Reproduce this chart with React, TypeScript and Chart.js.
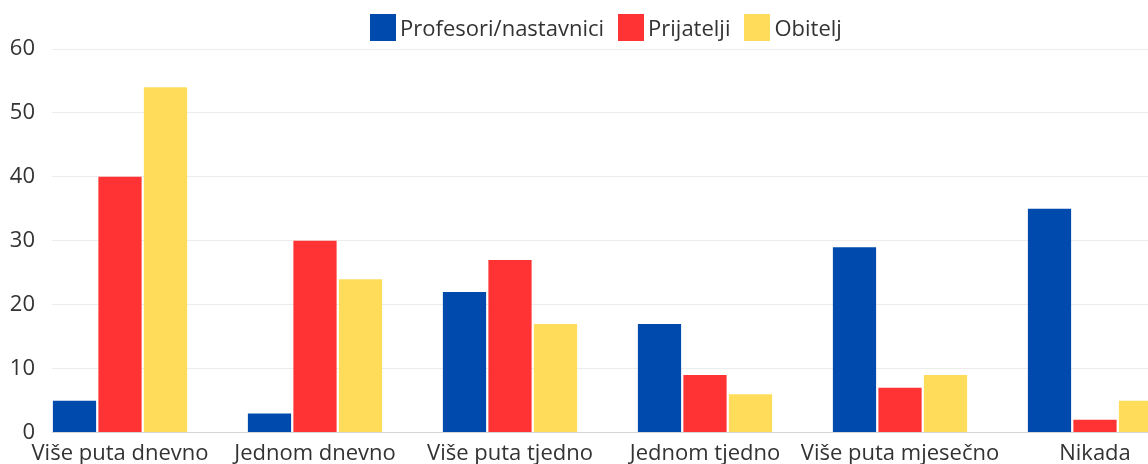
import React, { useEffect, useRef } from "react";
import { Chart, registerables } from "chart.js";

Chart.register(...registerables);

const categories = [
  "Više puta dnevno",
  "Jednom dnevno",
  "Više puta tjedno",
  "Jednom tjedno",
  "Više puta mjesečno",
  "Nikada",
];
const seriesNames = ["Profesori/nastavnici", "Prijatelji", "Obitelj"];
const profesori = [5, 3, 22, 17, 29, 35];
const prijatelji = [40, 30, 27, 9, 7, 2];
const obitelj = [54, 24, 17, 6, 9, 5];
const yTicks = [0, 10, 20, 30, 40, 50, 60];

const colors = ["#004AAD", "#FF3333", "#FFDC5A"];
const FONT = "'Open Sans', sans-serif";

export default function App() {
  const canvasRef = useRef<HTMLCanvasElement | null>(null);

  useEffect(() => {
    if (!canvasRef.current) return;
    const series = [profesori, prijatelji, obitelj];
    const chart = new Chart(canvasRef.current, {
      type: "bar",
      data: {
        datasets: series.map((vals, si) => ({
          label: seriesNames[si],
          data: vals.map((v, i) => ({ x: i, y: v })),
          backgroundColor: colors[si],
          categoryPercentage: 0.7,
          barPercentage: 0.95,
        })),
      },
      options: {
        animation: false,
        responsive: true,
        maintainAspectRatio: false,
        layout: { padding: { top: 41, left: 0, right: 0, bottom: 0 } },
        plugins: {
          legend: { display: false },
          tooltip: { enabled: false },
        },
        scales: {
          x: {
            type: "linear",
            offset: false,
            min: -0.3487,
            max: 5.559,
            grid: { display: false, drawTicks: false, offset: false },
            border: { display: true, color: "#d4d4d4", width: 1 },
            ticks: {
              stepSize: 1,
              includeBounds: false,
              autoSkip: false,
              maxRotation: 0,
              padding: 8,
              color: "#333",
              font: { family: FONT, size: 22 },
              callback: (v: any) =>
                Number.isInteger(v) && categories[v] !== undefined ? categories[v] : "",
            },
          },
          y: {
            min: yTicks[0],
            max: yTicks[yTicks.length - 1],
            grid: { color: "#ececec", drawTicks: false },
            border: { display: false },
            ticks: {
              stepSize: 10,
              padding: 17,
              color: "#333",
              font: { family: FONT, size: 22 },
            },
            afterFit: (scale: any) => {
              scale.width = 44;
            },
          },
        },
      },
    });
    return () => chart.destroy();
  }, []);

  return (
    <div
      style={{
        position: "fixed",
        left: 0,
        top: 0,
        width: 1148,
        height: 464,
        overflow: "hidden",
        background: "#fff",
      }}
    >
      <div
        style={{
          position: "absolute",
          left: 8,
          top: 8,
          width: 1196,
          height: 467,
        }}
      >
        <canvas ref={canvasRef} />
        <div
          style={{
            position: "absolute",
            top: 0,
            left: 0,
            width: 1196,
            height: 38,
            display: "flex",
            justifyContent: "center",
            alignItems: "center",
            fontFamily: FONT,
            fontSize: 22,
            color: "#333",
          }}
        >
          {seriesNames.map((name, i) => (
            <div
              key={name}
              style={{
                display: "flex",
                alignItems: "center",
                marginLeft: i === 0 ? 0 : 14,
              }}
            >
              <span
                style={{
                  display: "inline-block",
                  width: 26,
                  height: 27,
                  background: colors[i],
                  marginRight: 4,
                }}
              />
              <span>{name}</span>
            </div>
          ))}
        </div>
      </div>
    </div>
  );
}
